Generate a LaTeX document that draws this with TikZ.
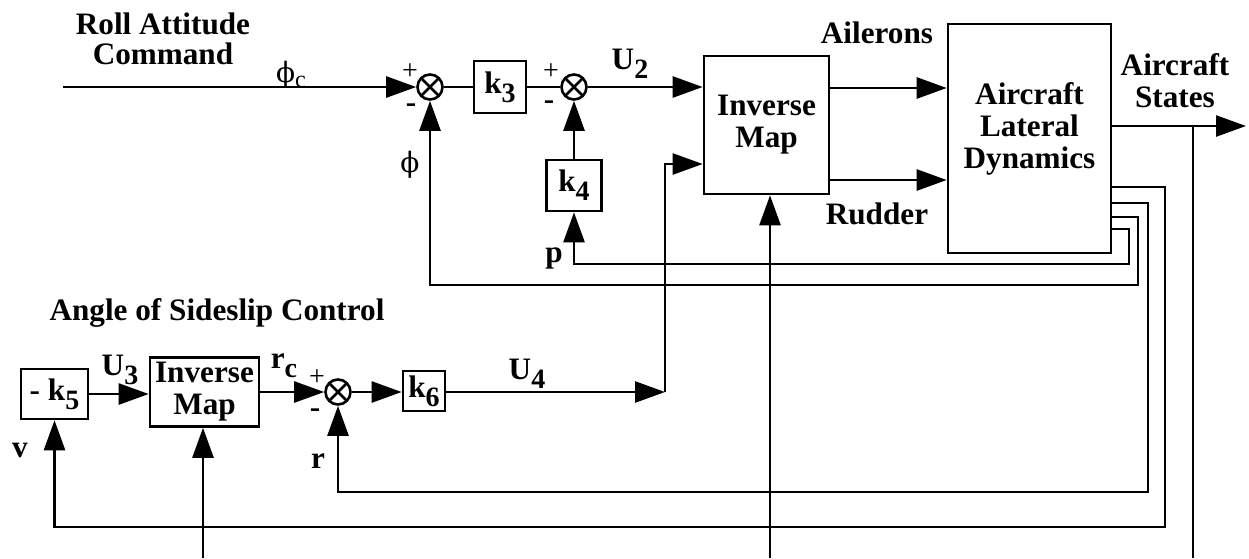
\documentclass[tikz,border=0pt]{standalone}
\usepackage{fontspec}
\setmainfont{Liberation Serif}
\newfontfamily\phifont{DejaVu Serif}
\usetikzlibrary{arrows.meta}
\newcommand\lo[1]{\raisebox{-4.5pt}{\fontsize{14pt}{14pt}\selectfont #1}}
\newcommand\phisym{{\fontsize{14pt}{14pt}\selectfont\phifont ϕ}}
\begin{document}
\begin{tikzpicture}[x=0.5pt,y=-0.5pt,line width=1.3pt,
  lbl/.style={font=\bfseries\fontsize{15.6pt}{16pt}\selectfont,align=center,inner sep=0pt},
  thin lbl/.style={font=\fontsize{14pt}{14pt}\selectfont,inner sep=0pt},
  blk/.style={draw,line width=1.3pt,inner sep=0pt,align=center,font=\bfseries\fontsize{15.6pt}{16pt}\selectfont},
  sumnode/.style={circle,draw,minimum size=12.5pt,inner sep=0pt,
    path picture={\draw[line width=1.3pt] (path picture bounding box.north west) -- (path picture bounding box.south east)
      (path picture bounding box.north east) -- (path picture bounding box.south west);}},
  arr/.style={-{Triangle[length=15pt,width=10.5pt]}}]
\useasboundingbox (0,0) rectangle (1249,558);

% upper loop
\node[sumnode] (s1) at (430,87) {};
\node[blk,minimum width=26pt,minimum height=26pt] (k3) at (500,87) {k\lo{3}};
\node[sumnode] (s2) at (574,87) {};
\node[blk,minimum width=27.5pt,minimum height=25.5pt] (k4) at (574,185.5) {k\lo{4}};
\node[blk,minimum width=62.5pt,minimum height=69pt] (im1) at (766.5,125) {Inverse\\Map};
\node[blk,minimum width=81.5pt,minimum height=114.5pt,
  label={[lbl,yshift=4.75pt]center:{Aircraft\\Lateral\\Dynamics}}] (ac) at (1029.5,138.5) {};

% lower loop
\node[blk,minimum width=33.5pt,minimum height=25pt] (k5) at (54.5,394) {- k\lo{5}};
\node[blk,minimum width=54.5pt,minimum height=34.5pt] (im2) at (204.5,392) {Inverse\\Map};
\node[sumnode] (s3) at (338,392) {};
\node[blk,minimum width=21pt,minimum height=20pt] (k6) at (424,391) {k\lo{6}};

% coordinates
\coordinate (in) at (63,87);
\coordinate (out) at (1246,126);
\coordinate (br) at (1193,126);
\coordinate (brb) at (1193,558);
\coordinate (b1) at (203,558);
\coordinate (b2) at (770,558);
\coordinate (cn) at (665,392);

% top connectors
\draw[arr] (in) -- (s1.west);
\draw (s1) -- (k3);
\draw (k3) -- (s2);
\draw[arr] (s2) -- (im1.west |- s2);
\draw[arr] (k4) -- (s2);
\draw[arr] (im1.east |- 0,88) -- (ac.west |- 0,88);
\draw[arr] (im1.east |- 0,180) -- (ac.west |- 0,180);
\draw[arr] (ac.east |- out) -- (out);
\draw (br) -- (brb);

% feedback
\draw[arr] (ac.east |- 0,229) -| (1129,264) -| (k4.south);
\draw[arr] (ac.east |- 0,217) -| (1138,285) -| (s1.south);
\draw[arr] (ac.east |- 0,203) -| (1148,492) -| (s3.south);
\draw[arr] (ac.east |- 0,187) -| (1165,527) -| (k5.south);

% bottom inputs
\draw[arr] (b1) -- (b1 |- im2.south);
\draw[arr] (b2) -- (b2 |- im1.south);

% lower chain
\draw[arr] (k5.east) -- (k5.east -| im2.west);
\draw[arr] (im2.east) -- (s3.west);
\draw[arr] (s3.east) -- (s3.east -| k6.west);
\draw[arr] (k6.east |- cn) -- (cn);
\draw[arr] (cn) |- (im1.west |- 0,164);

% labels
\node[lbl,font=\bfseries\fontsize{15.6pt}{15pt}\selectfont] (troll) at (163,39) {Roll Attitude\\Command};
\node[inner sep=0pt] (tphic) at (291,75) {\phisym{\fontsize{12pt}{12pt}\selectfont\raisebox{-2.5pt}{c}}};
\node[thin lbl] (tp1) at (410,72) {+};
\node[lbl] (tm1) at (411,108) {-};
\node[inner sep=0pt] (tphi) at (410,165) {\phisym};
\node[thin lbl] (tp2) at (551,72) {+};
\node[lbl] (tm2) at (549,105) {-};
\node[lbl] (tu2) at (630,64) {U\lo{2}};
\node[lbl] (tp) at (554,258) {p};
\node[lbl] (tail) at (877,33) {Ailerons};
\node[lbl] (trud) at (877,214) {Rudder};
\node[lbl] (tstates) at (1175,81) {Aircraft\\States};
\node[lbl] (tangle) at (217,313) {Angle of Sideslip Control};
\node[lbl] (tu3) at (120,370) {U\lo{3}};
\node[lbl] (trc) at (284,366) {r\lo{c}};
\node[thin lbl] (tp3) at (317,378) {+};
\node[lbl] (tm3) at (315,413) {-};
\node[lbl] (tu4) at (527,374) {U\lo{4}};
\node[lbl] (tv) at (20,450) {v};
\node[lbl] (tr) at (318,461) {r};
\end{tikzpicture}
\end{document}
